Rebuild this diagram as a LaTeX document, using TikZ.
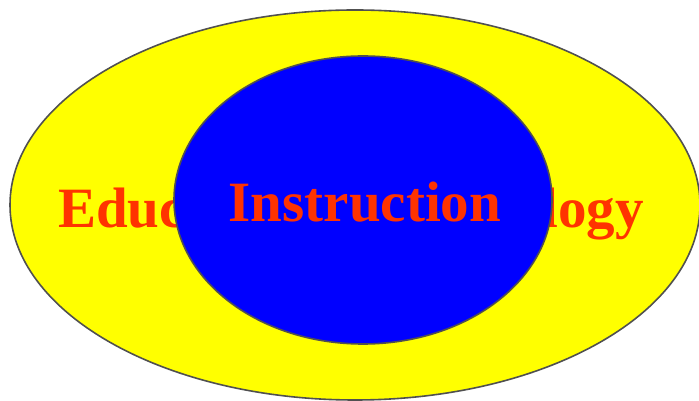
\documentclass[tikz,border=0pt]{standalone}
\usepackage{fontspec}
\setmainfont{Liberation Serif}
\definecolor{txtred}{HTML}{FF3300}
\definecolor{edge}{HTML}{505050}
\definecolor{ringyellow}{HTML}{FFFF00}
\definecolor{ringblue}{HTML}{0000FF}
\begin{document}
\begin{tikzpicture}[x=1pt,y=1pt,
  ring/.style={draw=edge,line width=1.6pt},
  lbl/.style={text=txtred,font=\bfseries\fontsize{57}{60}\selectfont,anchor=base,inner sep=0pt}]
\useasboundingbox (0,0) rectangle (699,401);
\clip (0,0) rectangle (699,401);
\draw[ring,fill=ringyellow] (355,196) ellipse [x radius=345,y radius=195];
\node[lbl] (edu) at (351,173) {Educational Technology};
\draw[ring,fill=ringblue] (363,201) ellipse [x radius=189,y radius=144];
\node[lbl] (ins) at (365,179) {Instruction};
\end{tikzpicture}
\end{document}
